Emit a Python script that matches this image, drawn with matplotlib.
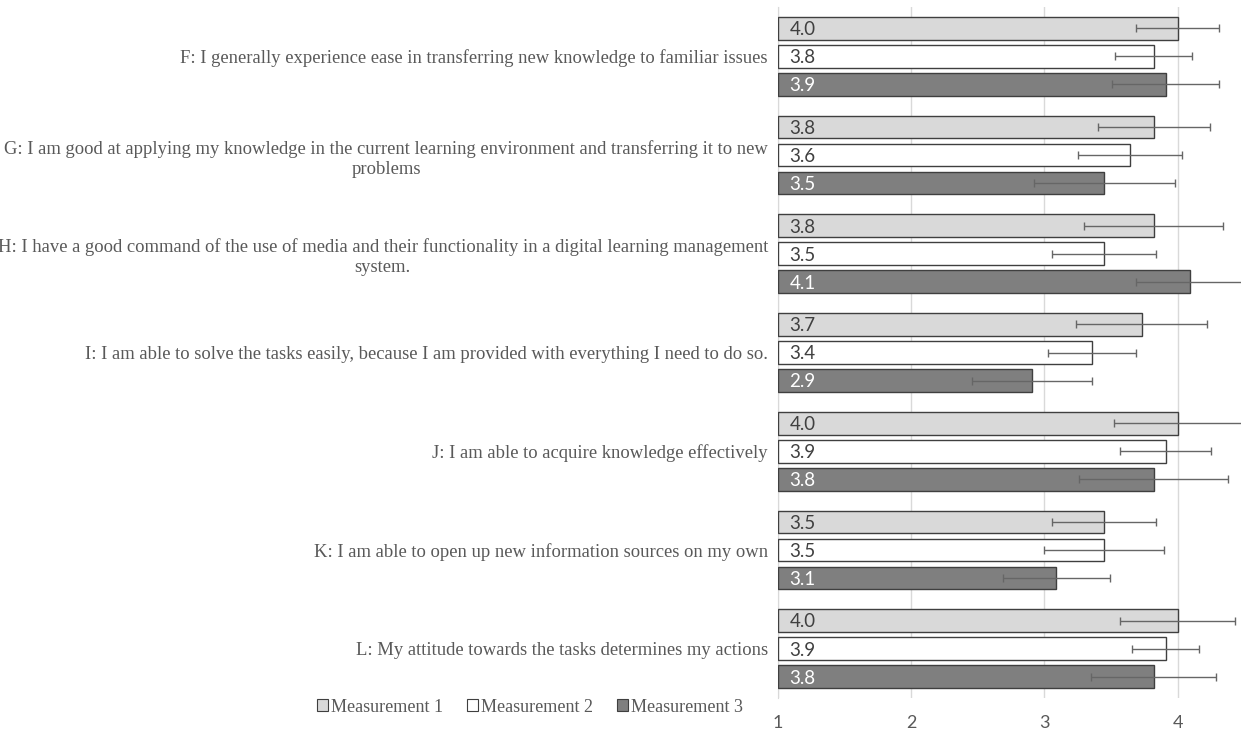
import matplotlib
matplotlib.use("Agg")
import matplotlib.pyplot as plt
from matplotlib.patches import Patch
import numpy as np

categories = [
    "F: I generally experience ease in transferring new knowledge to familiar issues",
    "G: I am good at applying my knowledge in the current learning environment and transferring it to new\nproblems",
    "H: I have a good command of the use of media and their functionality in a digital learning management\nsystem.",
    "I: I am able to solve the tasks easily, because I am provided with everything I need to do so.",
    "J: I am able to acquire knowledge effectively",
    "K: I am able to open up new information sources on my own",
    "L: My attitude towards the tasks determines my actions",
]
series_names = ["Measurement 1", "Measurement 2", "Measurement 3"]
m1 = [4.00, 3.82, 3.82, 3.73, 4.00, 3.45, 4.00]
m2 = [3.82, 3.64, 3.45, 3.36, 3.91, 3.45, 3.91]
m3 = [3.91, 3.45, 4.09, 2.91, 3.82, 3.09, 3.82]
e1 = [0.31, 0.42, 0.52, 0.49, 0.48, 0.39, 0.43]
e2 = [0.29, 0.39, 0.39, 0.33, 0.34, 0.45, 0.25]
e3 = [0.40, 0.53, 0.40, 0.45, 0.56, 0.40, 0.47]
x_ticks = [1, 2, 3, 4]

values = [m1, m2, m3]
errors = [e1, e2, e3]
fills = ["#d9d9d9", "#ffffff", "#7f7f7f"]
label_colors = ["#404040", "#404040", "#ffffff"]
offsets = [-0.284, 0.0, 0.284]
bar_h = 0.23

W, H = 1241, 731
fig = plt.figure(figsize=(W / 100, H / 100), dpi=100)
left = 777.7 / W
bottom = (H - 698) / H
top = (H - 7) / H
ax = fig.add_axes([left, bottom, 1 - left, top - bottom])

y = np.arange(len(categories))
for k in range(3):
    yy = y + offsets[k]
    ax.barh(yy, np.array(values[k]) - 1, left=1, height=bar_h, color=fills[k],
            edgecolor="#3f3f3f", linewidth=1.0, zorder=2)
    ax.errorbar(values[k], yy, xerr=errors[k], fmt="none", ecolor="#666666",
                elinewidth=1.0, capsize=3, capthick=1.0, zorder=3, clip_on=True)
    for v, yv in zip(values[k], yy):
        ax.annotate(f"{v:.1f}", xy=(1, yv), xytext=(8.5, -1), textcoords="offset points",
                    ha="left", va="center", fontsize=13.5, color=label_colors[k],
                    family="Lato", zorder=4)

ax.set_xlim(1, 1 + (W - 777.7) / 133.3)
ax.set_ylim(len(categories) - 0.5, -0.5)
ax.set_xticks(x_ticks)
ax.set_xticklabels([str(t) for t in x_ticks], family="Lato", fontsize=13, color="#595959")
ax.set_yticks(y)
ax.set_yticklabels(categories, family="Liberation Serif", fontsize=13.4, color="#595959",
                   multialignment="center", linespacing=1.25)
ax.tick_params(axis="y", length=0, pad=7)
ax.tick_params(axis="x", length=0, pad=12)
ax.grid(axis="x", color="#d9d9d9", linewidth=1.0, zorder=0)
ax.set_axisbelow(True)
for s in ["top", "right", "bottom"]:
    ax.spines[s].set_visible(False)
ax.spines["left"].set_color("#d9d9d9")
ax.spines["left"].set_zorder(1)

handles = [Patch(facecolor=fills[k], edgecolor="#3f3f3f", linewidth=0.8) for k in range(3)]
leg = fig.legend(handles, series_names, loc="center", bbox_to_anchor=(530 / W, (H - 707) / H),
                 ncol=3, frameon=False, handlelength=0.6, handleheight=0.6, handletextpad=0.15,
                 columnspacing=1.35, prop={"family": "Liberation Serif", "size": 13.1})
for t in leg.get_texts():
    t.set_color("#595959")

fig.savefig("out.png", dpi=100)
